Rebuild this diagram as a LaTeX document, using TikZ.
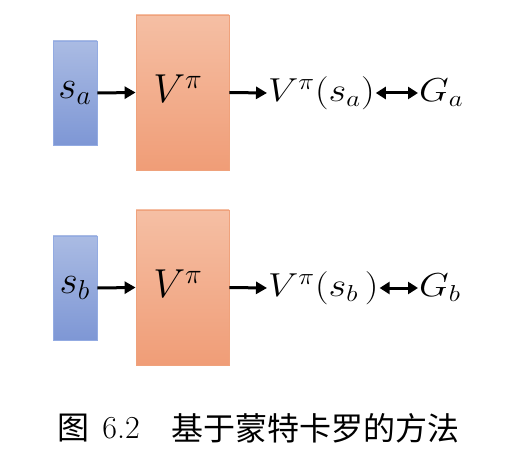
\documentclass[tikz,border=0pt]{standalone}
\usepackage{fontspec}
\newfontfamily\cjk[Scale=1.0]{Noto Sans CJK SC}
\usetikzlibrary{arrows.meta}
\definecolor{bluetop}{HTML}{AABBE3}
\definecolor{bluebot}{HTML}{7E97D5}
\definecolor{blueedge}{HTML}{93ABE2}
\definecolor{orgtop}{HTML}{F5BFA4}
\definecolor{orgbot}{HTML}{F09D77}
\definecolor{orgedge}{HTML}{EFA27C}
\newcommand{\bigmath}[2]{\scalebox{#1}{\fontsize{20}{24}\selectfont$#2$}}
\newcommand{\widemath}[1]{\scalebox{1.85}[1.6]{\fontsize{20}{24}\selectfont$#1$}}
\tikzset{
  sbox/.style={draw=blueedge, line width=0.8pt, top color=bluetop, bottom color=bluebot,
    minimum width=44pt, minimum height=104pt, inner sep=0pt},
  vbox/.style={draw=orgedge, line width=0.8pt, top color=orgtop, bottom color=orgbot,
    minimum width=93pt, minimum height=155pt, inner sep=0pt},
  lbl/.style={inner sep=1pt},
  arr/.style={line width=3pt, -{Triangle[length=11pt,width=12pt]}},
  darr/.style={line width=3pt, {Triangle[length=10pt,width=12pt]}-{Triangle[length=10pt,width=12pt]}},
  captxt/.style={inner sep=0pt, font=\fontsize{32}{36}\selectfont}
}
\begin{document}
\begin{tikzpicture}[x=1pt,y=-1pt]
\useasboundingbox (0,0) rectangle (511,462);
% top row
\node[sbox] (sa) at (75,93) {\bigmath{1.9}{s_a}};
\node[vbox] (va) at (182.5,92.5) {};
\node (vat) at (178,89) {\bigmath{1.95}{V^{\pi}}};
\node[lbl, anchor=west] (ra) at (267,93) {\widemath{V^{\pi}(s_a)}};
\node[lbl, anchor=west] (ga) at (418,93) {\widemath{G_a}};
\draw[arr] (sa.east) -- (va.west);
\draw[arr] (va.east) -- (ra.west);
\draw[darr] (ra.east) -- (ga.west);
% bottom row
\node[sbox] (sb) at (75,288) {\bigmath{1.9}{s_b}};
\node[vbox] (vb) at (182.5,287.5) {};
\node (vbt) at (178,284) {\bigmath{1.95}{V^{\pi}}};
\node[lbl, anchor=west] (rb) at (267,288) {\widemath{V^{\pi}(s_b\,)}};
\node[lbl, anchor=west] (gb) at (418,288) {\widemath{G_b}};
\draw[arr] (sb.east) -- (vb.west);
\draw[arr] (vb.east) -- (rb.west);
\draw[darr] (rb.east) -- (gb.west);
% caption
\node[captxt] (c1) at (73,428) {\cjk 图};
\node[captxt] (c2) at (121,428) {6.2};
\node[captxt] (c3) at (315,428) {\cjk 基于蒙特卡罗的方法};
\end{tikzpicture}
\end{document}
